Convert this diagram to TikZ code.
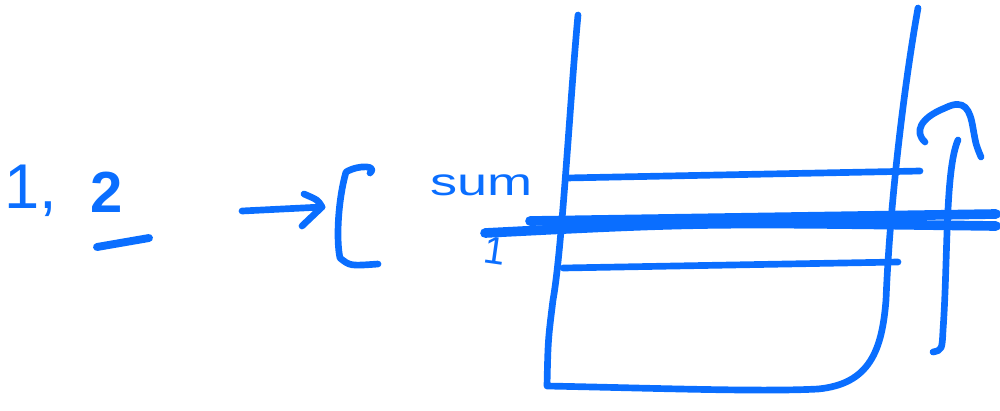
\documentclass[tikz,border=0pt]{standalone}
\usepackage{fontspec}
\setmainfont{Liberation Sans}
\definecolor{ink}{RGB}{10,110,255}
\tikzset{
  pen/.style={draw=ink, line width=3.8pt, line cap=round, line join=round},
  thickpen/.style={draw=ink, line width=5.5pt, line cap=round},
  hand/.style={text=ink, inner sep=0pt, anchor=base west},
}
\begin{document}
\begin{tikzpicture}[x=0.02cm, y=-0.02cm]
\useasboundingbox (0,0) rectangle (1000,410);
% input numbers
\node[hand, font=\fontsize{36}{36}\selectfont] (n1) at (4,208) {1,};
\node[hand, font=\fontsize{33}{33}\selectfont\bfseries] (n2) at (90,212) {2};
\coordinate (u1) at (97,247);
\coordinate (u2) at (149,238);
\draw[pen, line width=4.5pt] (u1) -- (u2);
% arrow to bracket
\coordinate (a0) at (242,211);
\coordinate (a1) at (322,207);
\draw[pen] (a0) -- (a1);
\draw[pen] (304,194) .. controls (318,200) .. (a1) .. controls (312,216) .. (302,226);
% left bracket
\draw[pen] (370,173) .. controls (378,166) and (360,164) .. (346,172)
  .. controls (338,200) and (336,240) .. (340,258) .. controls (350,266) .. (378,264);
% label sum and 1
\node[hand, font=\fontsize{22}{22}\selectfont, xscale=1.4] (sum) at (430,195) {sum};
\node[hand, font=\fontsize{22}{22}\selectfont, rotate=-8] (one) at (482,262) {1};
% big container
\draw[pen] (578,15) .. controls (570,100) and (562,250) .. (553,300)
  .. controls (548,340) .. (547,386) .. controls (650,388) and (760,392) .. (818,389)
  .. controls (870,384) and (882,350) .. (886,300)
  .. controls (890,200) and (905,80) .. (918,8);
% horizontal levels
\draw[pen] (566,178) -- (920,171);
\draw[pen] (563,268) -- (898,262);
\draw[thickpen] (530,221) -- (996,214);
\draw[thickpen] (485,233) .. controls (700,222) .. (996,226);
% right bracket with arrow hook
\draw[pen] (958,140) .. controls (945,170) and (948,260) .. (943,330)
  .. controls (942,350) .. (933,352);
\draw[pen] (925,142) .. controls (914,132) and (920,118) .. (945,108)
  .. controls (965,98) and (970,110) .. (973,128) .. controls (976,145) .. (981,157);
\end{tikzpicture}
\end{document}
